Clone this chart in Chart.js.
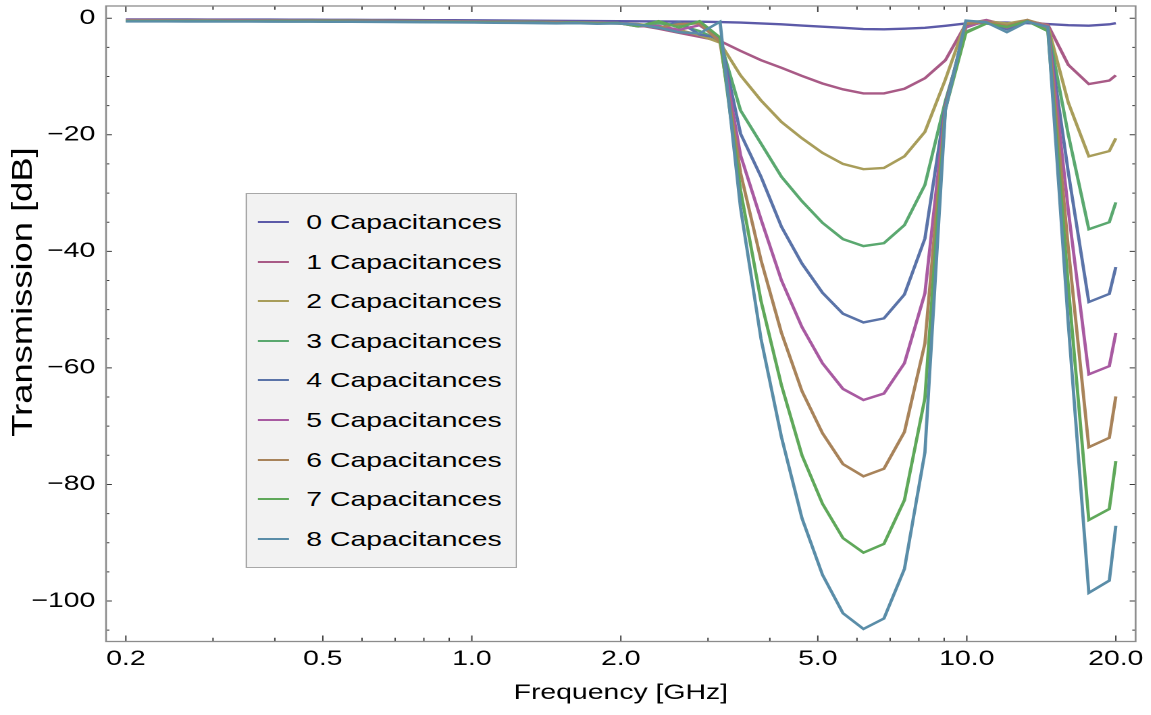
<!DOCTYPE html>
<html>
<head>
<meta charset="utf-8">
<script src="https://cdn.jsdelivr.net/npm/chart.js@4.4.1/dist/chart.umd.min.js"></script>
<style>
    html, body { margin: 0; padding: 0; background: #fff; overflow: hidden; }
    /* the reference is horizontally stretched, so the whole chart is drawn narrow and scaled */
    #stretch { position: absolute; left: 0; top: 0; width: 852.6px; height: 715px; transform: scaleX(1.35); transform-origin: 0 0; }
    #legend { position: absolute; left: 181.5px; top: 193px; width: 201.5px; height: 375px; box-sizing: border-box;
        background: #f2f2f2; border: 1.5px solid #a8a8a8; font: 21px "Liberation Sans", Arial, sans-serif; color: #000; }
    .legend-row { position: absolute; left: 0; height: 30px; display: flex; align-items: center; white-space: nowrap; }
    .legend-line { width: 23.7px; height: 2px; margin-left: 8.1px; margin-right: 12.6px; }
</style>
</head>
<body>
<div id="stretch">
    <canvas id="chart"></canvas>
    <div id="legend"></div>
</div>
<script>
// частоты, ГГц (лог. шаг)
const frequencies = [0.2, 0.22, 0.242, 0.2662, 0.2928, 0.3221, 0.3543, 0.3897, 0.4287, 0.4716, 0.5187, 0.5706, 0.6277, 0.6905, 0.7595,
    0.8354, 0.919, 1.0109, 1.112, 1.2232, 1.3455, 1.48, 1.6281, 1.7909, 1.97, 2.167, 2.3837, 2.622, 2.8842, 3.1727, 3.4899, 3.8389,
    4.2228, 4.6451, 5.1096, 5.6205, 6.1826, 6.8009, 7.4809, 8.229, 9.0519, 9.9571, 10.9528, 12.0481, 13.2529, 14.5782, 16.036,
    17.6396, 19.4036, 20.0];

// пропускание, дБ
const cap0 = [-0.2, -0.2, -0.21, -0.21, -0.22, -0.22, -0.23, -0.24, -0.25, -0.26, -0.27, -0.28, -0.29, -0.3, -0.31, -0.33, -0.34, -0.36, -0.38, -0.4, -0.42, -0.44, -0.46, -0.48,
    -0.5, -0.52, -0.55, -0.58, -0.6, -0.65,
    -0.75, -0.9, -1.05, -1.25, -1.45, -1.65, -1.85, -1.9, -1.8, -1.65, -1.3,
    -0.9, -0.7, -0.75, -0.85, -1.0,
    -1.2, -1.27, -1.05, -0.85];
const cap1 = [-0.3, -0.3, -0.31, -0.31, -0.32, -0.32, -0.33, -0.34, -0.35, -0.36, -0.37, -0.38, -0.4, -0.42, -0.44, -0.46, -0.48, -0.5, -0.52, -0.55, -0.58, -0.62, -0.66, -0.72,
    -0.8, -1.2, -1.8, -2.5, -3.2, -3.9,
    -5.6, -7.2, -8.5, -9.9, -11.2, -12.2, -12.9, -12.9, -12.1, -10.3, -7.2,
    -1.0, -0.3, -1.2, -0.5, -1.1,
    -8.0, -11.3, -10.7, -9.8];
const cap2 = [-0.35, -0.35, -0.35, -0.36, -0.36, -0.37, -0.37, -0.38, -0.39, -0.4, -0.41, -0.42, -0.44, -0.46, -0.48, -0.5, -0.52, -0.55, -0.58, -0.6, -0.64, -0.68, -0.7, -0.78,
    -0.9, -1.0, -1.4, -2.0, -2.9, -4.2,
    -9.8, -14.1, -17.8, -20.6, -23.1, -25.0, -25.9, -25.7, -23.7, -19.5, -10.5,
    -0.6, -0.5, -0.9, -0.3, -1.3,
    -14.5, -23.7, -22.8, -20.6];
const cap3 = [-0.4, -0.4, -0.4, -0.41, -0.41, -0.42, -0.42, -0.43, -0.44, -0.45, -0.46, -0.47, -0.48, -0.5, -0.52, -0.54, -0.56, -0.58, -0.6, -0.62, -0.66, -0.63, -0.74, -0.7,
    -0.8, -1.3, -0.9, -1.2, -2.2, -3.8,
    -15.8, -21.5, -27.2, -31.4, -35.1, -37.9, -39.1, -38.6, -35.5, -28.6, -14.2,
    -2.3, -0.9, -1.4, -0.6, -1.6,
    -20.0, -36.2, -35.0, -31.6];
const cap4 = [-0.42, -0.42, -0.43, -0.43, -0.44, -0.44, -0.45, -0.46, -0.47, -0.48, -0.49, -0.5, -0.52, -0.54, -0.56, -0.58, -0.6, -0.62, -0.64, -0.68, -0.7, -0.74, -0.72, -0.82,
    -0.9, -1.1, -1.7, -0.6, -2.8, -3.4,
    -19.8, -27.2, -35.8, -42.1, -47.1, -50.7, -52.2, -51.5, -47.4, -37.8, -14.8,
    -1.2, -0.7, -1.9, -0.5, -1.9,
    -26.5, -48.7, -47.3, -42.7];
const cap5 = [-0.45, -0.45, -0.45, -0.46, -0.46, -0.47, -0.47, -0.48, -0.49, -0.5, -0.51, -0.52, -0.54, -0.56, -0.58, -0.6, -0.62, -0.64, -0.66, -0.7, -0.72, -0.7, -0.82, -0.76,
    -0.8, -1.4, -1.3, -2.0, -1.2, -3.6,
    -23.5, -34.5, -45.0, -53.0, -59.2, -63.6, -65.5, -64.4, -59.2, -47.2, -15.2,
    -1.6, -0.4, -1.6, -0.4, -1.4,
    -33.0, -61.1, -59.7, -54.0];
const cap6 = [-0.48, -0.48, -0.48, -0.49, -0.49, -0.5, -0.5, -0.51, -0.52, -0.53, -0.54, -0.55, -0.57, -0.59, -0.61, -0.63, -0.65, -0.67, -0.7, -0.72, -0.76, -0.74, -0.8, -0.86,
    -0.9, -1.2, -1.6, -1.0, -0.9, -4.1,
    -26.5, -41.5, -54.0, -64.0, -71.2, -76.5, -78.6, -77.3, -71.0, -55.8, -15.5,
    -1.0, -0.6, -1.3, -0.3, -1.7,
    -39.5, -73.6, -72.0, -64.9];
const cap7 = [-0.5, -0.5, -0.5, -0.51, -0.51, -0.52, -0.52, -0.53, -0.54, -0.55, -0.56, -0.57, -0.59, -0.61, -0.63, -0.65, -0.67, -0.7, -0.72, -0.76, -0.74, -0.82, -0.78, -0.9,
    -0.8, -1.4, -0.5, -1.6, -0.5, -3.3,
    -29.5, -48.5, -63.0, -75.0, -83.3, -89.2, -91.7, -90.2, -82.7, -65.2, -15.6,
    -2.5, -0.9, -1.5, -0.5, -2.2,
    -46.0, -86.1, -84.2, -76.0];
const cap8 = [-0.55, -0.55, -0.55, -0.56, -0.56, -0.57, -0.57, -0.58, -0.59, -0.6, -0.61, -0.62, -0.64, -0.66, -0.68, -0.7, -0.72, -0.75, -0.78, -0.8, -0.84, -0.88, -0.85, -0.95,
    -0.9, -1.1, -1.6, -2.4, -2.6, -0.6,
    -32.5, -55.0, -71.9, -85.8, -95.5, -102.1, -104.8, -103.0, -94.5, -74.5, -15.8,
    -0.4, -0.7, -2.4, -0.6, -1.5,
    -52.5, -98.6, -96.5, -87.1];

const seriesValues = [cap0, cap1, cap2, cap3, cap4, cap5, cap6, cap7, cap8];
const seriesLabels = ['0 Capacitances', '1 Capacitances', '2 Capacitances', '3 Capacitances', '4 Capacitances',
    '5 Capacitances', '6 Capacitances', '7 Capacitances', '8 Capacitances'];
const seriesColors = ['rgb(92,90,168)', 'rgb(168,90,134)', 'rgb(168,157,90)', 'rgb(90,168,111)', 'rgb(90,115,168)',
    'rgb(168,90,161)', 'rgb(168,131,90)', 'rgb(95,168,90)', 'rgb(90,141,168)'];

// деления осей
const xMajorTicks = [0.2, 0.5, 1, 2, 5, 10, 20];
const xMajorLabels = ['0.2', '0.5', '1.0', '2.0', '5.0', '10.0', '20.0'];
const xMinorTicks = [0.3, 0.4, 0.6, 0.7, 0.8, 0.9, 3, 4, 6, 7, 8, 9];
const yTicks = [-105, -100, -95, -90, -85, -80, -75, -70, -65, -60, -55, -50, -45, -40, -35, -30, -25, -20, -15, -10, -5, 0];

const fontFamily = '"Liberation Sans", Arial, sans-serif';
Chart.defaults.font.family = fontFamily;
Chart.defaults.font.size = 21;
Chart.defaults.color = '#000';

// рамка и внутренние засечки как в Mathematica
const frameTicks = {
    id: 'frameTicks',
    afterDraw(chart) {
        const {ctx, chartArea: a, scales: {x, y}} = chart;
        ctx.save();
        ctx.strokeStyle = '#3c3c3c';
        ctx.lineWidth = 1;
        ctx.beginPath();
        x.ticks.forEach((t) => {
            const px = x.getPixelForValue(t.value);
            const len = xMajorTicks.includes(t.value) ? 6 : 3.7;
            ctx.moveTo(px, a.bottom);
            ctx.lineTo(px, a.bottom - len);
            ctx.moveTo(px, a.top);
            ctx.lineTo(px, a.top + len);
        });
        y.ticks.forEach((t) => {
            const py = y.getPixelForValue(t.value);
            const len = t.value % 20 === 0 ? 4.4 : 2.5;
            ctx.moveTo(a.left, py);
            ctx.lineTo(a.left + len, py);
            ctx.moveTo(a.right, py);
            ctx.lineTo(a.right - len, py);
        });
        ctx.stroke();
        ctx.strokeStyle = '#8c8c8c';
        ctx.lineWidth = 1.3;
        ctx.strokeRect(a.left, a.top, a.right - a.left, a.bottom - a.top);
        ctx.restore();
    }
};

// подпись оси Y: в оригинале она вытянута вдоль оси сильнее, чем даёт шрифт
const yTitle = {
    id: 'yTitle',
    afterDraw(chart) {
        const ctx = chart.ctx;
        ctx.save();
        ctx.translate(17.8, 292);
        ctx.rotate(-Math.PI / 2);
        ctx.scale(1.73, 1);
        ctx.font = '21px ' + fontFamily;
        ctx.fillStyle = '#000';
        ctx.textAlign = 'center';
        ctx.textBaseline = 'middle';
        ctx.fillText('Transmission [dB]', 0, 0);
        ctx.restore();
    }
};

const datasets = seriesValues.map((values, i) => ({
    label: seriesLabels[i],
    data: values.map((v, j) => ({x: frequencies[j], y: v})),
    borderColor: seriesColors[i],
    backgroundColor: seriesColors[i],
    borderWidth: 2.4,
    pointRadius: 0,
    tension: 0,
    fill: false,
    order: seriesValues.length - i, // последняя кривая сверху
}));

new Chart(document.getElementById('chart'), {
    type: 'line',
    data: {datasets},
    options: {
        responsive: true,
        maintainAspectRatio: false,
        animation: false,
        devicePixelRatio: 2,
        layout: {padding: {top: 6, right: 11.9, left: 0, bottom: 0}},
        plugins: {legend: {display: false}, tooltip: {enabled: false}},
        scales: {
            x: {
                type: 'logarithmic',
                min: 0.1824,
                max: 21.93,
                grid: {display: false, drawTicks: false},
                border: {display: false},
                afterBuildTicks: (scale) => {
                    scale.ticks = xMajorTicks.concat(xMinorTicks).map((v) => ({value: v}));
                },
                afterFit: (scale) => {
                    scale.height = 73.5;
                    scale.paddingLeft = 0;
                    scale.paddingRight = 0;
                },
                ticks: {
                    autoSkip: false,
                    maxRotation: 0,
                    padding: 5,
                    callback: (v) => {
                        const i = xMajorTicks.indexOf(v);
                        return i >= 0 ? xMajorLabels[i] : '';
                    }
                },
                title: {display: true, text: 'Frequency [GHz]', padding: {top: 0, bottom: 9}}
            },
            y: {
                type: 'linear',
                min: -106.95,
                max: 2.1,
                grid: {display: false, drawTicks: false},
                border: {display: false},
                afterBuildTicks: (scale) => {
                    scale.ticks = yTicks.map((v) => ({value: v}));
                },
                afterFit: (scale) => {
                    scale.width = 78.5;
                    scale.paddingTop = 0; // не сдвигать область графика из-за подписи "0"
                    scale.paddingBottom = 0;
                },
                ticks: {
                    autoSkip: false,
                    padding: 8,
                    callback: (v) => (v % 20 === 0 ? String(v).replace('-', '\u2212') : '')
                },
                title: {display: false}
            }
        }
    },
    plugins: [frameTicks, yTitle]
});

// легенда в рамке
const legendElement = document.getElementById('legend');
seriesLabels.forEach((name, i) => {
    const row = document.createElement('div');
    row.className = 'legend-row';
    row.style.top = (28 + 39.6 * i - 15) + 'px';
    const line = document.createElement('span');
    line.className = 'legend-line';
    line.style.backgroundColor = seriesColors[i];
    const text = document.createElement('span');
    text.textContent = name;
    row.appendChild(line);
    row.appendChild(text);
    legendElement.appendChild(row);
});
</script>
</body>
</html>
